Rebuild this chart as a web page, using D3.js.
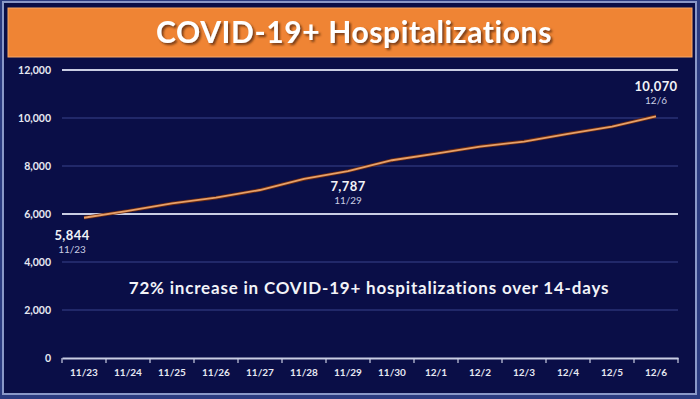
<!DOCTYPE html>
<html>
<head>
<meta charset="utf-8">
<script src="https://cdn.jsdelivr.net/npm/d3@7"></script>
<style>
  html, body { margin: 0; padding: 0; background: #2b3b80; }
  svg { display: block; }
  text { font-family: "Lato", "Open Sans", sans-serif; }
</style>
</head>
<body>
<div id="chart"></div>
<script>
// data
var dates = ["11/23", "11/24", "11/25", "11/26", "11/27", "11/28", "11/29",
             "11/30", "12/1", "12/2", "12/3", "12/4", "12/5", "12/6"];
var hospitalized = [5844, 6130, 6440, 6680, 7000, 7460, 7787,
                    8240, 8520, 8810, 9020, 9340, 9640, 10070];
var yTicks = [0, 2000, 4000, 6000, 8000, 10000, 12000];
var callouts = [
  {i: 0, dx: -12, dy: 22},
  {i: 6, dx: 0, dy: 20},
  {i: 13, dx: 0, dy: -25}
];

var svgWidth = 700, svgHeight = 399;
var margins = {top: 70, bottom: 41, left: 62, right: 22};
var width = svgWidth - margins.left - margins.right;
var height = svgHeight - margins.top - margins.bottom;

var svg = d3.select("#chart").append("svg")
    .attr("width", svgWidth)
    .attr("height", svgHeight);

//drop shadow for title
var defs = svg.append("defs");
var shadow = defs.append("filter").attr("id", "shadow")
    .attr("x", "-10%").attr("y", "-30%").attr("width", "130%").attr("height", "170%");
shadow.append("feDropShadow").attr("dx", 2).attr("dy", 2)
    .attr("stdDeviation", 1.2).attr("flood-color", "#5a2a08").attr("flood-opacity", 0.8);

//panel frame
svg.append("rect")
    .attr("x", 3).attr("y", 2).attr("width", 693).attr("height", 392)
    .attr("fill", "#0a0e47")
    .attr("stroke", "#8a98c8").attr("stroke-width", 2);

//title bar
svg.append("rect")
    .attr("x", 8).attr("y", 8).attr("width", 684).attr("height", 49)
    .attr("fill", "#ef8434")
    .attr("stroke", "#f6a86a").attr("stroke-width", 1);
svg.append("text")
    .attr("x", 354).attr("y", 43)
    .attr("text-anchor", "middle")
    .attr("fill", "#ffffff")
    .attr("font-size", 30)
    .attr("font-weight", "bold")
    .attr("letter-spacing", 0.6)
    .attr("filter", "url(#shadow)")
    .text("COVID-19+ Hospitalizations");

var group = svg.append("g")
    .attr("transform", `translate(${margins.left}, ${margins.top})`);

var xScale = d3.scaleBand()
    .domain(dates)
    .range([0, width]);
var yScale = d3.scaleLinear()
    .domain([0, 12000])
    .range([height, 0]);

//gridlines
group.selectAll(".grid")
    .data(yTicks.filter(d => d > 0))
    .enter()
    .append("line")
    .attr("x1", 0).attr("x2", width)
    .attr("y1", d => yScale(d)).attr("y2", d => yScale(d))
    .attr("stroke", d => (d === 12000 || d === 6000) ? "#c9cde3" : "#2a3275")
    .attr("stroke-width", d => (d === 12000 || d === 6000) ? 2 : 1.5);

//y labels
group.selectAll(".ylab")
    .data(yTicks)
    .enter()
    .append("text")
    .attr("x", -11)
    .attr("y", d => yScale(d) + 4)
    .attr("text-anchor", "end")
    .attr("fill", "#e6e8f2")
    .attr("font-size", 10.5)
    .attr("font-weight", "bold")
    .text(d => d3.format(",")(d));

//x axis
var xAxis = d3.axisBottom(xScale).tickSize(0).tickPadding(11);
var xg = group.append("g")
    .attr("transform", `translate(0, ${height})`)
    .call(xAxis);
xg.select(".domain").attr("stroke", "#c9cde3").attr("stroke-width", 2);
xg.selectAll("text")
    .attr("fill", "#e6e8f2")
    .attr("font-size", 10)
    .attr("font-weight", "bold")
    .attr("font-family", "Lato, sans-serif");
//tick marks on band boundaries
group.selectAll(".xtick")
    .data(dates.slice(1).concat(["end"]))
    .enter()
    .append("line")
    .attr("x1", (d, i) => i < dates.length - 1 ? xScale(d) : width)
    .attr("x2", (d, i) => i < dates.length - 1 ? xScale(d) : width)
    .attr("y1", height).attr("y2", height + 5)
    .attr("stroke", "#c9cde3").attr("stroke-width", 1.2);
group.append("line")
    .attr("x1", 0).attr("x2", 0).attr("y1", height).attr("y2", height + 5)
    .attr("stroke", "#c9cde3").attr("stroke-width", 1.2);

//line
var line = d3.line()
    .x((d, i) => xScale(dates[i]) + xScale.bandwidth() / 2)
    .y(d => yScale(d));
group.append("path")
    .datum(hospitalized)
    .attr("d", line)
    .attr("fill", "none")
    .attr("stroke", "#6b2a10")
    .attr("stroke-width", 3.5);
group.append("path")
    .datum(hospitalized)
    .attr("d", line)
    .attr("fill", "none")
    .attr("stroke", "#e6a06a")
    .attr("stroke-width", 1.8);

//callouts
callouts.forEach(function(c) {
    var cx = xScale(dates[c.i]) + xScale.bandwidth() / 2 + c.dx;
    var cy = yScale(hospitalized[c.i]) + c.dy;
    group.append("text")
        .attr("x", cx).attr("y", cy)
        .attr("text-anchor", "middle")
        .attr("fill", "#f2f3f8")
        .attr("font-size", 13)
        .attr("font-weight", "bold")
        .attr("letter-spacing", 0.4)
        .text(d3.format(",")(hospitalized[c.i]));
    group.append("text")
        .attr("x", cx).attr("y", cy + 13)
        .attr("text-anchor", "middle")
        .attr("fill", "#c9cde3")
        .attr("font-size", 10)
        .text(dates[c.i]);
});

//summary note
group.append("text")
    .attr("x", 369 - margins.left)
    .attr("y", 294 - margins.top)
    .attr("text-anchor", "middle")
    .attr("fill", "#f2f3f8")
    .attr("font-size", 17)
    .attr("font-weight", "bold")
    .attr("letter-spacing", 0.8)
    .text("72% increase in COVID-19+ hospitalizations over 14-days");
</script>
</body>
</html>
